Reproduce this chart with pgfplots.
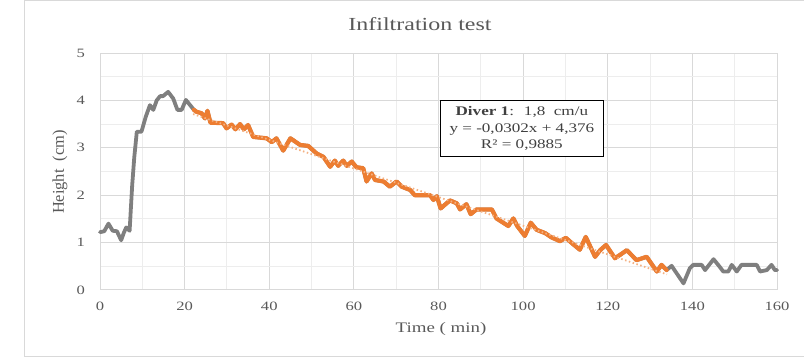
\documentclass[border=0pt]{standalone}
\usepackage{pgfplots}
\pgfplotsset{compat=1.18}
\usepackage{fontspec}
\setmainfont{Liberation Serif}[FakeStretch=1.3]
\newfontfamily\plainserif{Liberation Serif}
\definecolor{xlgray}{HTML}{7F7F7F}
\definecolor{xlorange}{HTML}{ED7D31}
\definecolor{xltrend}{HTML}{F4B183}
\definecolor{gridmaj}{HTML}{D9D9D9}
\definecolor{gridmin}{HTML}{EDEDED}
\definecolor{txt}{HTML}{595959}
\definecolor{boxtxt}{HTML}{404040}
\begin{document}
\begin{tikzpicture}
\useasboundingbox (0,0) rectangle (804bp,357bp);
\draw[gridmaj, line width=1bp] (24bp,1bp) rectangle (830bp,356bp);
\begin{axis}[
  at={(100bp,67bp)}, anchor=south west,
  scale only axis, width=677bp, height=237bp,
  xmin=0, xmax=160, ymin=0, ymax=5,
  xtick={0,20,...,160}, ytick={0,1,...,5},
  minor x tick num=1, minor y tick num=1,
  grid=both,
  major grid style={gridmaj, line width=1bp},
  minor grid style={gridmin, line width=1bp},
  axis line style={gridmaj, line width=1bp},
  major tick length=0pt, minor tick length=0pt,
  /pgf/number format/assume math mode=true,
  ticklabel style={font=\fontsize{12.8}{14}\selectfont, text=txt},
  yticklabel style={xshift=-11.5bp},
  xticklabel style={yshift=-8bp},
  clip=false,
]
\addplot[xlgray, line width=3.8bp, line join=round, line cap=round] coordinates {
(0,1.22) (1,1.24) (2,1.40) (3,1.25) (4,1.24) (5,1.05) (5.6,1.20) (6.2,1.32) (7,1.25) (7.6,2.2) (8.1,2.8) (8.7,3.34) (9.8,3.34) (10.8,3.65) (11.8,3.90) (12.6,3.80) (13.4,4.00) (14.2,4.09) (14.9,4.09) (16.1,4.18) (17.3,4.04) (18.3,3.80) (19.3,3.80) (20.3,4.01) (21.3,3.90) (22.2,3.80)
(22.8,3.76) (24,3.73) (24.8,3.62) (25.4,3.78) (26.1,3.53) (29.1,3.52) (29.9,3.41) (31.1,3.49) (32.0,3.39) (33.1,3.50) (34.0,3.39) (35.0,3.48) (36.2,3.23) (39.4,3.20) (40.6,3.12) (41.7,3.20) (43.3,2.94) (45.0,3.20) (47.3,3.06) (49.2,3.04) (51.2,2.88) (52.8,2.81) (54.4,2.60) (55.5,2.73) (56.3,2.62) (57.5,2.73) (58.3,2.62) (59.5,2.71) (60.6,2.59) (62.2,2.57) (63.0,2.29) (64.2,2.46) (65.0,2.32) (67.0,2.29) (68.5,2.18) (70.1,2.29) (71.3,2.18) (73.3,2.11) (74.4,2.00) (78.0,2.00) (78.8,1.90) (79.6,1.98) (80.5,1.72) (82.7,1.89) (84.3,1.83) (85.1,1.70) (86.6,1.81) (87.6,1.60) (89.0,1.70) (92.6,1.70) (93.7,1.51) (96.5,1.35) (97.7,1.51) (98.6,1.35) (100.4,1.14) (101.8,1.42) (103.2,1.27) (105.2,1.20) (106.7,1.11) (108.7,1.03) (110.1,1.10) (111.9,0.96) (113.4,0.85) (114.8,1.12) (117.0,0.70) (118.2,0.84) (119.6,0.95) (121.7,0.67) (122.9,0.74) (124.5,0.84) (126.8,0.63) (129.2,0.70) (131.6,0.39) (132.7,0.53) (133.9,0.42)
(135.1,0.51) (136.3,0.35) (137.9,0.14) (139.4,0.46) (140.2,0.53) (142.2,0.53) (143.0,0.42) (145.0,0.65) (146.1,0.53) (147.3,0.39) (148.5,0.39) (149.3,0.53) (150.5,0.39) (151.6,0.53) (155.2,0.53) (156.0,0.39) (157.6,0.42) (158.7,0.53) (159.5,0.42) (160,0.42)
};
\addplot[xlorange, line width=4.2bp, line join=round, line cap=round] coordinates {
(22.2,3.80) (22.8,3.76) (24,3.73) (24.8,3.62) (25.4,3.78) (26.1,3.53) (29.1,3.52) (29.9,3.41) (31.1,3.49) (32.0,3.39) (33.1,3.50) (34.0,3.39) (35.0,3.48) (36.2,3.23) (39.4,3.20) (40.6,3.12) (41.7,3.20) (43.3,2.94) (45.0,3.20) (47.3,3.06) (49.2,3.04) (51.2,2.88) (52.8,2.81) (54.4,2.60) (55.5,2.73) (56.3,2.62) (57.5,2.73) (58.3,2.62) (59.5,2.71) (60.6,2.59) (62.2,2.57) (63.0,2.29) (64.2,2.46) (65.0,2.32) (67.0,2.29) (68.5,2.18) (70.1,2.29) (71.3,2.18) (73.3,2.11) (74.4,2.00) (78.0,2.00) (78.8,1.90) (79.6,1.98) (80.5,1.72) (82.7,1.89) (84.3,1.83) (85.1,1.70) (86.6,1.81) (87.6,1.60) (89.0,1.70) (92.6,1.70) (93.7,1.51) (96.5,1.35) (97.7,1.51) (98.6,1.35) (100.4,1.14) (101.8,1.42) (103.2,1.27) (105.2,1.20) (106.7,1.11) (108.7,1.03) (110.1,1.10) (111.9,0.96) (113.4,0.85) (114.8,1.12) (117.0,0.70) (118.2,0.84) (119.6,0.95) (121.7,0.67) (122.9,0.74) (124.5,0.84) (126.8,0.63) (129.2,0.70) (131.6,0.39) (132.7,0.53) (133.9,0.42)
};
\addplot[xltrend, line width=1.8bp, dash pattern=on 1.5bp off 2.5bp] coordinates {(22,3.7116) (134,0.3292)};
\node[draw=black, line width=1.2bp, fill=white, align=center, minimum width=163bp, minimum height=56bp, inner sep=1bp, text=boxtxt, font=\fontsize{13.2}{16.5}\selectfont] at (axis cs:99.7,3.40) {\textbf{Diver 1}:~ 1,8~ cm/u\\y = -0,0302x + 4,376\\R² = 0,9885};
\end{axis}
\node[text=txt, font=\fontsize{18.5}{20}\selectfont] at (420bp,333bp) {Infiltration test};
\node[text=txt, font=\fontsize{14.6}{16}\selectfont] at (441bp,28bp) {Time ( min)};
\node[text=txt, font=\plainserif\fontsize{16.5}{18}\selectfont, rotate=90] at (60bp,185bp) {Height~ (cm)};
\end{tikzpicture}
\end{document}
